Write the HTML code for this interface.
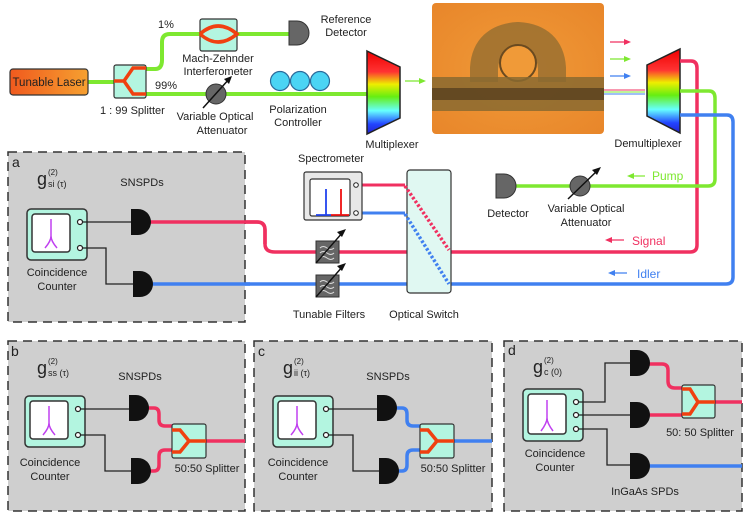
<!DOCTYPE html>
<html><head><meta charset="utf-8"><style>
body{margin:0;background:#fff}
svg{display:block;font-family:"Liberation Sans",sans-serif;font-size:11px}
text{fill:#222}
</style></head><body>
<svg width="747" height="517" viewBox="0 0 747 517" xmlns="http://www.w3.org/2000/svg">
<defs>
<linearGradient id="rb" x1="0" y1="0" x2="0" y2="1">
<stop offset="0" stop-color="#e00"/><stop offset="0.25" stop-color="#f33"/><stop offset="0.4" stop-color="#ee0"/><stop offset="0.55" stop-color="#6e1"/><stop offset="0.72" stop-color="#6ff"/><stop offset="0.88" stop-color="#24f"/><stop offset="1" stop-color="#22c"/>
</linearGradient>
<linearGradient id="las" x1="0" y1="0" x2="1" y2="0"><stop offset="0" stop-color="#f05a1e"/><stop offset="1" stop-color="#f6a030"/></linearGradient>
<radialGradient id="chip" cx="0.5" cy="0.5" r="0.7"><stop offset="0" stop-color="#f09a38"/><stop offset="1" stop-color="#e8862a"/></radialGradient>
<symbol id="cc" overflow="visible">
<rect x="0" y="0" width="60" height="51" rx="4" fill="#b3f5e0" stroke="#333" stroke-width="1.5"/>
<rect x="5" y="5" width="38" height="38" rx="3" fill="#fff" stroke="#333" stroke-width="1.5"/>
<path d="M24 10 V27 Q24 32 18 39 M24 27 Q24 32 30 39" fill="none" stroke="#c040f0" stroke-width="1.5"/>
<circle cx="53" cy="13" r="2.5" fill="#fff" stroke="#222" stroke-width="1.2"/>
<circle cx="53" cy="39" r="2.5" fill="#fff" stroke="#222" stroke-width="1.2"/>
</symbol>
<symbol id="det" overflow="visible"><path d="M0 0 H7 A13 13 0 0 1 7 26 H0 Z" fill="#111"/></symbol>
</defs>

<!-- top section -->
<g fill="none" stroke-width="4" stroke-linecap="round">
<path d="M88 82 H116" stroke="#7ee830"/>
<path d="M146 69 H155 Q162 69 162 60 V42 Q162 34 170 34 H290" stroke="#7ee830"/>
<path d="M146 94 H368" stroke="#7ee830"/>
</g>
<rect x="10" y="69" width="78" height="26" rx="3" fill="url(#las)" stroke="#333" stroke-width="1.2"/>
<text x="49" y="86" text-anchor="middle" font-size="11.5">Tunable Laser</text>
<rect x="114" y="65" width="32" height="33" rx="2" fill="#b3f5e0" stroke="#333" stroke-width="1.2"/>
<path d="M114 81 H124 L133 68 H146 M124 81 L133 94 H146" fill="none" stroke="#f04010" stroke-width="3.5"/>
<text x="100" y="114">1 : 99 Splitter</text>
<text x="158" y="28">1%</text>
<text x="155" y="89">99%</text>
<rect x="200" y="19" width="37" height="32" rx="2" fill="#b3f5e0" stroke="#333" stroke-width="1.2"/>
<path d="M200 34 Q218 18 237 34 Q218 50 200 34" fill="none" stroke="#f04010" stroke-width="3.5"/>
<text x="218" y="62" text-anchor="middle">Mach-Zehnder</text>
<text x="218" y="75" text-anchor="middle">Interferometer</text>
<path d="M289 21 H297 A12 12 0 0 1 297 45 H289 Z" fill="#666" stroke="#333"/>
<text x="346" y="23" text-anchor="middle">Reference</text>
<text x="346" y="36" text-anchor="middle">Detector</text>
<circle cx="216" cy="94" r="10" fill="#666" stroke="#333"/>
<path d="M203 108 L230 78" stroke="#111" stroke-width="1.5"/><path d="M232 76 L224 79 L229 84 Z" fill="#111"/>
<text x="215" y="120" text-anchor="middle">Variable Optical</text>
<text x="222" y="134" text-anchor="middle">Attenuator</text>
<g fill="#4ad4f4" stroke="#2a6a9a" stroke-width="1.2"><circle cx="280" cy="81" r="9.5"/><circle cx="300" cy="81" r="9.5"/><circle cx="320" cy="81" r="9.5"/></g>
<text x="298" y="113" text-anchor="middle">Polarization</text>
<text x="298" y="126" text-anchor="middle">Controller</text>
<path d="M367 51 L400 67 V118 L367 134 Z" fill="url(#rb)" stroke="#222" stroke-width="1.5"/>
<text x="392" y="148" text-anchor="middle">Multiplexer</text>
<path d="M405 81 H424" stroke="#7ee830" stroke-width="1.2"/><path d="M426 81 L419 78 V84 Z" fill="#7ee830"/>
<!-- chip -->
<rect x="432" y="3" width="172" height="131" rx="4" fill="url(#chip)"/>
<path d="M484 82 V68 Q486 38 518 36 Q550 38 552 68 V82" fill="none" stroke="#9a7030" stroke-width="28" opacity="0.85"/>
<circle cx="518" cy="63" r="18" fill="#f09a38" stroke="#6a4a20" stroke-width="2"/>
<rect x="432" y="77" width="172" height="34" fill="#8a6a30" opacity="0.85"/>
<rect x="432" y="88" width="172" height="12" fill="#3a2a18" opacity="0.55"/>
<path d="M604 90 H645" stroke="#f03060" stroke-width="1"/><path d="M604 92 H645" stroke="#7ee830" stroke-width="1"/><path d="M604 94 H645" stroke="#4080f0" stroke-width="1"/>
<g stroke-width="1.2"><path d="M610 42 H627" stroke="#f03060"/><path d="M610 59 H627" stroke="#7ee830"/><path d="M610 76 H627" stroke="#4080f0"/></g>
<path d="M631 42 L624 39 V45 Z" fill="#f03060"/><path d="M631 59 L624 56 V62 Z" fill="#7ee830"/><path d="M631 76 L624 73 V79 Z" fill="#4080f0"/>
<path d="M647 65 L680 49 V133 L647 116 Z" fill="url(#rb)" stroke="#222" stroke-width="1.5"/>
<text x="648" y="147" text-anchor="middle">Demultiplexer</text>
<g fill="none" stroke-width="3.5">
<path d="M680 61 H691 Q697 61 697 68 V245 Q697 252 690 252 H275 Q265 252 265 244 V230 Q265 222 257 222 H150" stroke="#f03060"/>
<path d="M680 91 H709 Q715 91 715 98 V179 Q715 186 708 186 H510" stroke="#7ee830"/>
<path d="M680 115 H727 Q733 115 733 122 V277 Q733 284 726 284 H152" stroke="#4080f0"/>
<path d="M358 185 H405" stroke="#f03060" stroke-width="3"/>
<path d="M358 213 H405" stroke="#4080f0" stroke-width="3"/>
</g>
<!-- optical switch -->
<rect x="407" y="170" width="44" height="123" rx="3" fill="#e0f8f2" stroke="#333" stroke-width="1.2"/>
<path d="M405 186 L449 250" stroke="#f03060" stroke-width="3.5" stroke-dasharray="2.5 2" fill="none"/>
<path d="M405 214 L449 284" stroke="#4080f0" stroke-width="3.5" stroke-dasharray="2.5 2" fill="none"/>
<text x="424" y="318" text-anchor="middle">Optical Switch</text>
<!-- spectrometer -->
<text x="331" y="162" text-anchor="middle">Spectrometer</text>
<rect x="304" y="172" width="58" height="48" rx="2" fill="#e8e8e8" stroke="#333" stroke-width="1.2"/>
<rect x="310" y="179" width="40" height="37" rx="2" fill="#fff" stroke="#333" stroke-width="1.2"/>
<path d="M326 189 V215 M316 215 H331" stroke="#2244ee" stroke-width="1.8"/>
<path d="M341 189 V215 M331 215 H349" stroke="#ee1111" stroke-width="1.8"/>
<circle cx="356" cy="185" r="2.3" fill="#fff" stroke="#222"/><circle cx="356" cy="213" r="2.3" fill="#fff" stroke="#222"/>
<!-- pump/detector -->
<path d="M496 174 H504 A12 12 0 0 1 504 198 H496 Z" fill="#666" stroke="#333"/>
<text x="508" y="217" text-anchor="middle">Detector</text>
<circle cx="580" cy="186" r="10" fill="#666" stroke="#333"/>
<path d="M568 199 L598 170" stroke="#111" stroke-width="1.5"/><path d="M601 167 L592 170 L597 175 Z" fill="#111"/>
<text x="586" y="212" text-anchor="middle">Variable Optical</text>
<text x="586" y="226" text-anchor="middle">Attenuator</text>
<path d="M629 176 H645" stroke="#7ee830" stroke-width="1.2"/><path d="M627 176 L634 173 V179 Z" fill="#7ee830"/>
<text x="652" y="180" font-size="12" style="fill:#7ee830">Pump</text>
<path d="M607 240 H624" stroke="#f03060" stroke-width="1.2"/><path d="M605 240 L612 237 V243 Z" fill="#f03060"/>
<text x="632" y="245" font-size="12" style="fill:#f03060">Signal</text>
<path d="M610 273 H627" stroke="#4080f0" stroke-width="1.2"/><path d="M608 273 L615 270 V276 Z" fill="#4080f0"/>
<text x="637" y="278" font-size="12" style="fill:#4080f0">Idler</text>

<!-- panels -->
<g fill="#cfcfcf" stroke="#333" stroke-width="1.5" stroke-dasharray="9 6">
<rect x="8" y="152" width="237" height="170"/>
<rect x="8" y="341" width="237" height="170"/>
<rect x="254" y="341" width="238" height="170"/>
<rect x="504" y="341" width="238" height="170"/>
</g>
<path d="M150 222 H257 Q265 222 265 230 V244" fill="none" stroke="#f03060" stroke-width="3.5"/>
<path d="M152 284 H250" stroke="#4080f0" stroke-width="3.5"/>
<!-- tunable filters -->
<g>
<rect x="316" y="241" width="23" height="22" fill="#666" stroke="#333"/>
<rect x="316" y="275" width="23" height="22" fill="#666" stroke="#333"/>
<path d="M320 248 q3 -3 7 0 t7 0 M320 253 q3 -3 7 0 t7 0 M320 258 q3 -3 7 0 t7 0 M320 282 q3 -3 7 0 t7 0 M320 287 q3 -3 7 0 t7 0 M320 292 q3 -3 7 0 t7 0" stroke="#ddd" fill="none" stroke-width="1"/>
<path d="M316 263 L343 232 M316 297 L343 266" stroke="#111" stroke-width="1.4"/>
<path d="M346 229 L337 232 L342 237 Z M346 263 L337 266 L342 271 Z" fill="#111"/>
</g>
<text x="329" y="318" text-anchor="middle">Tunable Filters</text>

<!-- panel a -->
<text x="12" y="167" font-size="14">a</text>
<text x="37" y="185" font-size="18">g</text><text x="48" y="175" font-size="8">(2)</text><text x="48" y="187" font-size="9">si (τ)</text>
<text x="142" y="186" text-anchor="middle">SNSPDs</text>
<use href="#cc" x="27" y="209"/>
<path d="M82 222 H131 M82 248 H106 V284 H133" fill="none" stroke="#222" stroke-width="1.3"/>
<use href="#det" x="131" y="209"/><use href="#det" x="133" y="271"/>
<text x="57" y="276" text-anchor="middle">Coincidence</text><text x="57" y="290" text-anchor="middle">Counter</text>

<!-- panel b -->
<text x="11" y="356" font-size="14">b</text>
<text x="37" y="374" font-size="18">g</text><text x="48" y="364" font-size="8">(2)</text><text x="48" y="376" font-size="9">ss (τ)</text>
<text x="140" y="380" text-anchor="middle">SNSPDs</text>
<use href="#cc" x="25" y="396"/>
<path d="M80 409 H129 M80 435 H105 V471 H131" fill="none" stroke="#222" stroke-width="1.3"/>
<path d="M148 408 H154 Q159 408 159 414 V420 Q159 426 165 426 H174 M149 471 H154 Q159 471 159 465 V456 Q159 450 165 450 H174 M206 441 H245" fill="none" stroke="#f03060" stroke-width="3.5"/>
<use href="#det" x="129" y="395"/><use href="#det" x="131" y="458"/>
<rect x="172" y="424" width="34" height="34" rx="2" fill="#b3f5e0" stroke="#333" stroke-width="1.2"/>
<path d="M172 430 H180 L189 441 L180 452 H172 M189 441 H206" fill="none" stroke="#f04010" stroke-width="3.5"/>
<text x="207" y="472" text-anchor="middle">50:50 Splitter</text>
<text x="50" y="466" text-anchor="middle">Coincidence</text><text x="50" y="480" text-anchor="middle">Counter</text>

<!-- panel c -->
<text x="258" y="356" font-size="14">c</text>
<text x="283" y="374" font-size="18">g</text><text x="294" y="364" font-size="8">(2)</text><text x="294" y="376" font-size="9">ii (τ)</text>
<text x="388" y="380" text-anchor="middle">SNSPDs</text>
<use href="#cc" x="273" y="396"/>
<path d="M328 409 H377 M328 435 H353 V471 H379" fill="none" stroke="#222" stroke-width="1.3"/>
<path d="M396 408 H402 Q407 408 407 414 V420 Q407 426 413 426 H422 M397 471 H402 Q407 471 407 465 V456 Q407 450 413 450 H422 M454 441 H492" fill="none" stroke="#4080f0" stroke-width="3.5"/>
<use href="#det" x="377" y="395"/><use href="#det" x="379" y="458"/>
<rect x="420" y="424" width="34" height="34" rx="2" fill="#b3f5e0" stroke="#333" stroke-width="1.2"/>
<path d="M420 430 H428 L437 441 L428 452 H420 M437 441 H454" fill="none" stroke="#f04010" stroke-width="3.5"/>
<text x="453" y="472" text-anchor="middle">50:50 Splitter</text>
<text x="298" y="466" text-anchor="middle">Coincidence</text><text x="298" y="480" text-anchor="middle">Counter</text>

<!-- panel d -->
<text x="508" y="355" font-size="14">d</text>
<text x="533" y="373" font-size="18">g</text><text x="544" y="363" font-size="8">(2)</text><text x="544" y="375" font-size="9">c (0)</text>
<rect x="523" y="389" width="60" height="52" rx="4" fill="#b3f5e0" stroke="#333" stroke-width="1.5"/>
<rect x="528" y="394" width="38" height="40" rx="3" fill="#fff" stroke="#333" stroke-width="1.5"/>
<path d="M547 400 V418 Q547 423 541 431 M547 418 Q547 423 553 431" fill="none" stroke="#c040f0" stroke-width="1.5"/>
<path d="M578 402 H605 V363 H630 M578 415 H631 M578 429 H607 V465 H631" fill="none" stroke="#222" stroke-width="1.3"/>
<circle cx="576" cy="402" r="2.5" fill="#fff" stroke="#222" stroke-width="1.2"/>
<circle cx="576" cy="415" r="2.5" fill="#fff" stroke="#222" stroke-width="1.2"/>
<circle cx="576" cy="429" r="2.5" fill="#fff" stroke="#222" stroke-width="1.2"/>
<path d="M648 364 H662 Q668 364 668 370 V381 Q668 388 675 388 H684 M648 415 H684 M714 402 H742" fill="none" stroke="#f03060" stroke-width="3.5"/>
<path d="M648 466 H742" stroke="#4080f0" stroke-width="3.5"/>
<use href="#det" x="630" y="350"/><use href="#det" x="630" y="402"/><use href="#det" x="630" y="453"/>
<rect x="682" y="385" width="33" height="33" rx="2" fill="#b3f5e0" stroke="#333" stroke-width="1.2"/>
<path d="M682 389 H690 L698 402 L690 414 H682 M698 402 H715" fill="none" stroke="#f04010" stroke-width="3.5"/>
<text x="700" y="436" text-anchor="middle">50: 50 Splitter</text>
<text x="645" y="495" text-anchor="middle">InGaAs SPDs</text>
<text x="555" y="457" text-anchor="middle">Coincidence</text><text x="555" y="471" text-anchor="middle">Counter</text>
</svg>
</body></html>
